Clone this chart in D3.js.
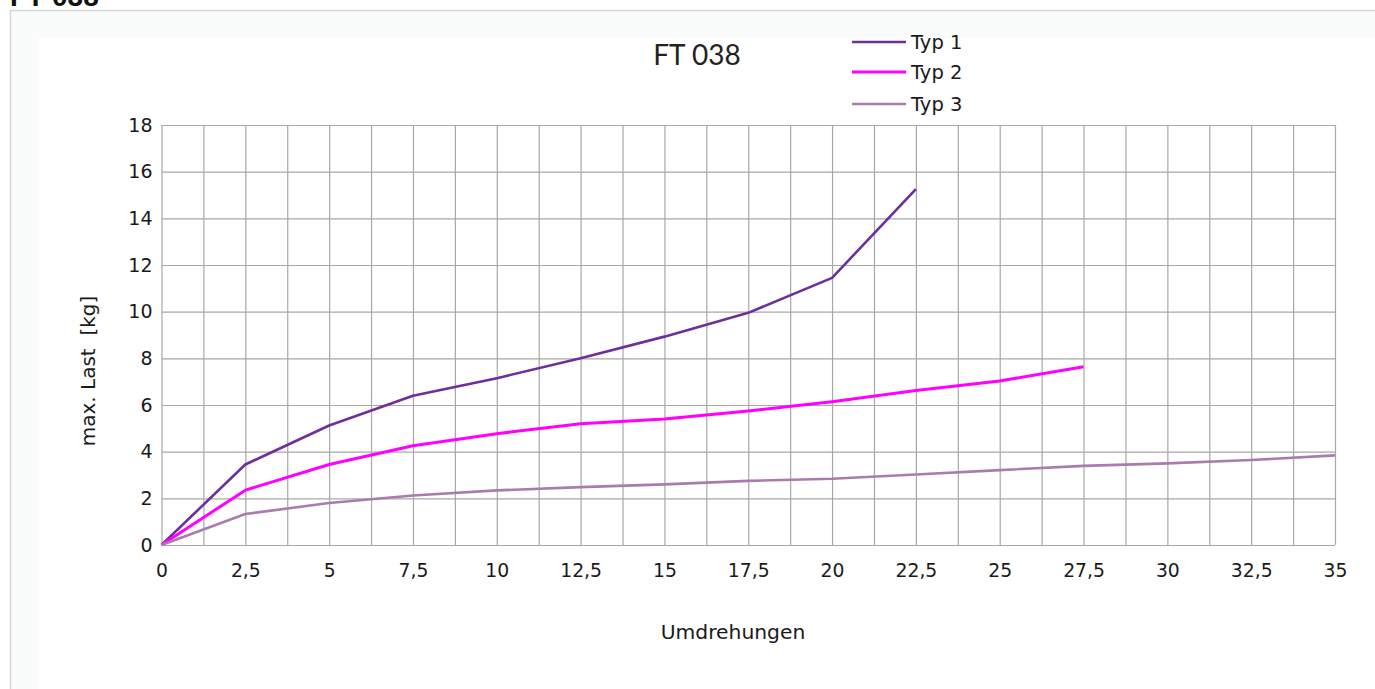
<!DOCTYPE html>
<html>
<head>
<meta charset="utf-8">
<script src="https://cdn.jsdelivr.net/npm/d3@7"></script>
<style>
  html, body { margin: 0; padding: 0; background: #ffffff; }
  svg { display: block; }
</style>
</head>
<body>
<svg id="chart" width="1375" height="689"></svg>
<script>
// ---- data ----
const xValues = [0, 2.5, 5, 7.5, 10, 12.5, 15, 17.5, 20, 22.5, 25, 27.5, 30, 32.5, 35];
const typ1 = [0, 3.45, 5.12, 6.4, 7.15, 8.0, 8.93, 9.95, 11.45, 15.25];
const typ2 = [0, 2.35, 3.45, 4.25, 4.77, 5.2, 5.4, 5.74, 6.14, 6.62, 7.03, 7.64];
const typ3 = [0, 1.33, 1.8, 2.12, 2.34, 2.48, 2.6, 2.75, 2.84, 3.02, 3.21, 3.39, 3.5, 3.64, 3.84];
const seriesNames = ["Typ 1", "Typ 2", "Typ 3"];
const xTickLabels = [0, 2.5, 5, 7.5, 10, 12.5, 15, 17.5, 20, 22.5, 25, 27.5, 30, 32.5, 35];
const xGridValues = [0, 1.25, 2.5, 3.75, 5, 6.25, 7.5, 8.75, 10, 11.25, 12.5, 13.75, 15, 16.25, 17.5, 18.75, 20, 21.25, 22.5, 23.75, 25, 26.25, 27.5, 28.75, 30, 31.25, 32.5, 33.75, 35];
const yTickValues = [0, 2, 4, 6, 8, 10, 12, 14, 16, 18];
const chartTitle = "FT 038";
const xTitle = "Umdrehungen";
const yTitle = "max. Last  [kg]";

// ---- styles ----
const colors = ["#6c2f9c", "#ff00ff", "#a97cad"];
const widths = [2.6, 3, 2.6];

const svg = d3.select("#chart");
const W = 1375, H = 689;
const plot = { left: 161.5, right: 1335, top: 125, bottom: 545 };

// frame
svg.append("rect").attr("x", 11).attr("y", 11).attr("width", W - 11).attr("height", 27).attr("fill", "#fafcfc");
svg.append("rect").attr("x", 11).attr("y", 11).attr("width", 27).attr("height", H - 11).attr("fill", "#fafcfc");
svg.append("line").attr("x1", 10.5).attr("x2", 10.5).attr("y1", 10).attr("y2", H).attr("stroke", "#d3d6d7").attr("stroke-width", 1.5);
svg.append("line").attr("x1", 10).attr("x2", W).attr("y1", 10.5).attr("y2", 10.5).attr("stroke", "#d3d6d7").attr("stroke-width", 1.5);

// page heading (cut off at top, as in the reference)
svg.append("text").attr("x", 10).attr("y", 6)
  .attr("font-family", "Liberation Sans, Arial, sans-serif").attr("font-weight", "bold")
  .attr("font-size", 28).attr("fill", "#111").text(chartTitle);

const x = d3.scaleLinear().domain([0, 35]).range([plot.left, plot.right]);
const y = d3.scaleLinear().domain([0, 18]).range([plot.bottom, plot.top]);

const locale = d3.formatLocale({ decimal: ",", thousands: ".", grouping: [3], currency: ["", "€"] });
const fmt = locale.format("~g");

const font = "DejaVu Sans, Verdana, sans-serif";
const txt = "#1a1a1a";

// vertical grid
const gx = svg.append("g").attr("transform", `translate(0,${plot.bottom})`)
  .call(d3.axisBottom(x).tickValues(xGridValues).tickSize(-(plot.bottom - plot.top)).tickFormat(""));
gx.select(".domain").remove();
gx.selectAll(".tick line").attr("stroke", "#a8a8a8").attr("stroke-width", 1.2);

// horizontal grid
const gy = svg.append("g").attr("transform", `translate(${plot.left},0)`)
  .call(d3.axisLeft(y).tickValues(yTickValues).tickSize(-(plot.right - plot.left)).tickFormat(""));
gy.select(".domain").remove();
gy.selectAll(".tick line").attr("stroke", "#a8a8a8").attr("stroke-width", 1.2);

// x tick labels
const xl = svg.append("g").attr("transform", `translate(0,${plot.bottom})`)
  .call(d3.axisBottom(x).tickValues(xTickLabels).tickSize(0).tickPadding(32).tickFormat(fmt));
xl.select(".domain").remove();
xl.selectAll("text").attr("font-family", font).attr("font-size", 18.8).attr("fill", txt).attr("dy", 0);

// y tick labels
const yl = svg.append("g").attr("transform", `translate(${plot.left},0)`)
  .call(d3.axisLeft(y).tickValues(yTickValues).tickSize(0).tickPadding(9).tickFormat(fmt));
yl.select(".domain").remove();
yl.selectAll("text").attr("font-family", font).attr("font-size", 19).attr("fill", txt);

// lines
const seriesData = [typ1, typ2, typ3];
const line = d3.line().x((d, i) => x(xValues[i])).y(d => y(d));
seriesData.forEach((s, k) => {
  svg.append("path").datum(s).attr("d", line).attr("fill", "none")
    .attr("stroke", colors[k]).attr("stroke-width", widths[k]).attr("stroke-linejoin", "round");
});

// title
svg.append("text").attr("x", 697).attr("y", 65).attr("text-anchor", "middle")
  .attr("font-family", "Lato, Open Sans, sans-serif").attr("font-size", 28).attr("fill", "#222").text(chartTitle);

// axis titles
svg.append("text").attr("x", 733).attr("y", 639).attr("text-anchor", "middle")
  .attr("font-family", font).attr("font-size", 20.3).attr("fill", txt).text(xTitle);
svg.append("text").attr("transform", "translate(95,371) rotate(-90)").attr("text-anchor", "middle")
  .attr("font-family", font).attr("font-size", 20).attr("fill", txt).attr("xml:space", "preserve").text(yTitle);

// legend
const legY = [42, 72, 104];
seriesNames.forEach((n, k) => {
  svg.append("line").attr("x1", 852).attr("x2", 906).attr("y1", legY[k]).attr("y2", legY[k])
    .attr("stroke", colors[k]).attr("stroke-width", widths[k]);
  svg.append("text").attr("x", 911).attr("y", legY[k]).attr("dy", "0.36em")
    .attr("font-family", font).attr("font-size", 19.5).attr("fill", txt).text(n);
});
</script>
</body>
</html>
